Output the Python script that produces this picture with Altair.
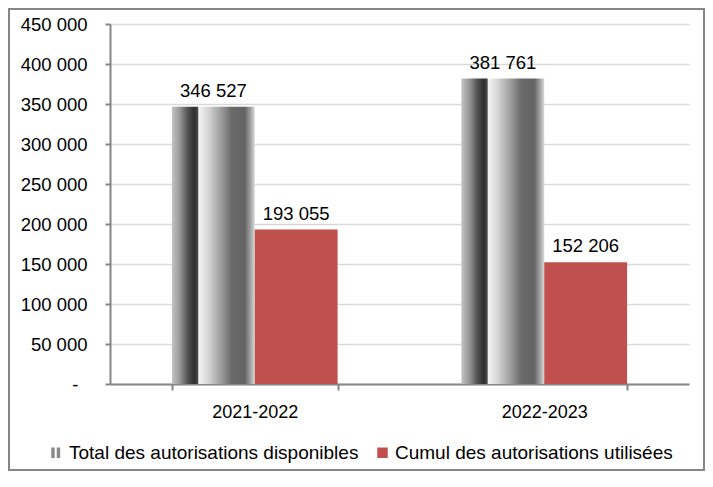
import altair as alt
import pandas as pd

periods = ["2021-2022", "2022-2023"]
series_names = ["Total des autorisations disponibles", "Cumul des autorisations utilisées"]
total_dispo = [346527, 381761]
cumul_util = [193055, 152206]
y_ticks = [0, 50000, 100000, 150000, 200000, 250000, 300000, 350000, 400000, 450000]

rows = []
for i, p in enumerate(periods):
    rows.append({"period": p, "series": series_names[0], "value": total_dispo[i]})
    rows.append({"period": p, "series": series_names[1], "value": cumul_util[i]})
df = pd.DataFrame(rows)

FONT = "Liberation Sans"
AXIS_GRAY = "#868686"
RED = "#C0504D"
STRIPES = "M-1,-1H-0.35V1H-1Z M0.05,-1H0.7V1H0.05Z"

metal = alt.LinearGradient(
    gradient="linear",
    x1=0, x2=1, y1=0, y2=0,
    stops=[
        alt.GradientStop(offset=0.0, color="#c4c4c4"),
        alt.GradientStop(offset=0.10, color="#959595"),
        alt.GradientStop(offset=0.18, color="#5a5a5a"),
        alt.GradientStop(offset=0.27, color="#2e2e2e"),
        alt.GradientStop(offset=0.31, color="#454545"),
        alt.GradientStop(offset=0.325, color="#f4f4f4"),
        alt.GradientStop(offset=0.45, color="#d2d2d2"),
        alt.GradientStop(offset=0.62, color="#939393"),
        alt.GradientStop(offset=0.72, color="#6a6a6a"),
        alt.GradientStop(offset=0.88, color="#646464"),
        alt.GradientStop(offset=0.95, color="#a2a2a2"),
        alt.GradientStop(offset=1.0, color="#dadada"),
    ],
)

x_enc = alt.X(
    "period:N",
    sort=periods,
    scale=alt.Scale(paddingInner=0.4276, paddingOuter=0.2138),
    axis=alt.Axis(
        title=None, labelAngle=0, tickBand="extent", domainColor=AXIS_GRAY,
        domainWidth=2, tickColor=AXIS_GRAY, tickWidth=2, tickSize=6,
        labelFont=FONT, labelFontSize=18, labelColor="#000000", labelPadding=13,
        grid=False,
    ),
)
xo_enc = alt.XOffset("series:N", sort=series_names,
                     scale=alt.Scale(paddingInner=0, paddingOuter=0))
y_enc = alt.Y(
    "value:Q",
    scale=alt.Scale(domain=[0, 450000], nice=False),
    axis=alt.Axis(
        title=None, values=y_ticks, domainColor=AXIS_GRAY, domainWidth=2,
        tickColor=AXIS_GRAY, tickWidth=2, tickSize=5,
        labelPadding={"condition": {"test": "datum.value === 0", "value": 27}, "value": 18},
        labelFont=FONT, labelFontSize=18.5, labelColor="#000000",
        gridColor="#D9D9D9", gridWidth=1.5,
        labelExpr="datum.value == 0 ? '-' : replace(format(datum.value, ','), ',', '\u00a0')",
    ),
)


def make_legend():
    return alt.Legend(
        title=None, orient="none", legendX=-63, legendY=419, direction="horizontal",
        labelFont=FONT, labelFontSize=19, labelColor="#000000", labelLimit=0,
        symbolSize=110, symbolStrokeWidth=0, columnPadding=14, labelOffset=3,
    )


color_scale = alt.Scale(domain=series_names, range=["#8a8a8a", RED])

color_enc = alt.condition(
    alt.datum.series == series_names[0],
    alt.value(metal),
    alt.Color("series:N", sort=series_names, scale=color_scale, legend=make_legend()),
)

bars = alt.Chart(df).mark_bar().encode(x=x_enc, xOffset=xo_enc, y=y_enc, color=color_enc)

legend_src = alt.Chart(df).transform_filter("false").mark_point(filled=True, opacity=1).encode(
    x=x_enc, y=y_enc,
    color=alt.Color("series:N", sort=series_names, scale=color_scale, legend=make_legend()),
    shape=alt.Shape("series:N", sort=series_names,
                    scale=alt.Scale(domain=series_names, range=[STRIPES, "square"]),
                    legend=make_legend()),
)

labels = alt.Chart(df).transform_calculate(
    lbl="replace(format(datum.value, ','), ',', '\u00a0')"
).mark_text(font=FONT, fontSize=18.5, baseline="alphabetic", dy=-10, color="#000000").encode(
    x=x_enc, xOffset=xo_enc, y=y_enc, text="lbl:N"
)

border = alt.Chart(pd.DataFrame({"k": [0]})).mark_rect(
    filled=False, color=AXIS_GRAY, strokeWidth=2
).encode(x=alt.value(-101), x2=alt.value(594), y=alt.value(-15), y2=alt.value(446))

chart = alt.layer(border, bars, labels, legend_src).properties(
    width=579, height=360, padding=0, background="#ffffff"
).configure_view(stroke=None)

chart.save("out.html", embed_options={"renderer": "svg", "actions": False})
